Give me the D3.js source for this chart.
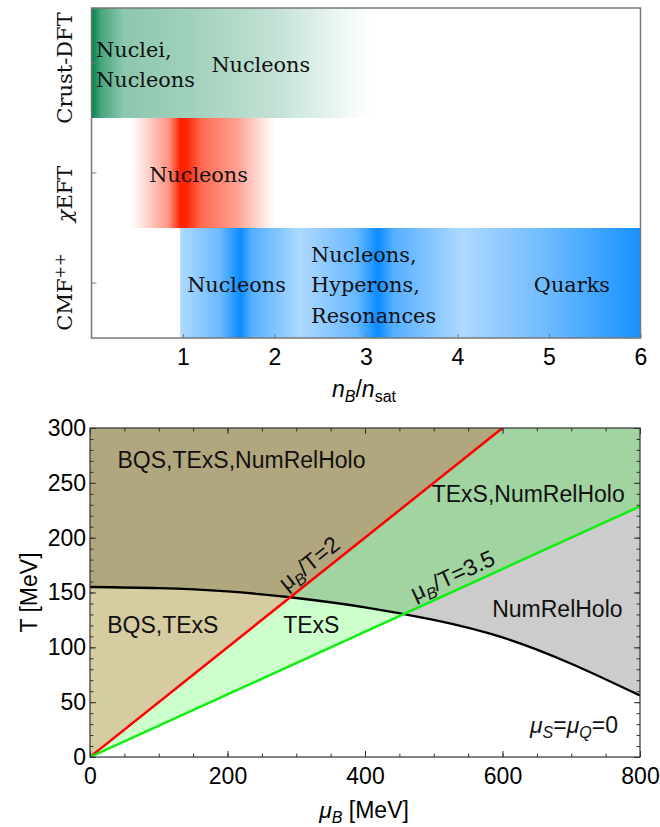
<!DOCTYPE html>
<html>
<head>
<meta charset="utf-8">
<script src="https://cdn.jsdelivr.net/npm/d3@7"></script>
<style>
  body { margin: 0; background: #fff; }
</style>
</head>
<body>
<div class="wrapper"></div>
<script>
// ---------- data: top panel (density ranges of each model)
var models = ['Crust-DFT', 'χEFT', 'CMF++'];
var nTicks = [1, 2, 3, 4, 5, 6];
// [n_B/n_sat, colour intensity 0..1]
var crustProfile = [[0, 1], [0.1, 0.72], [0.35, 0.45], [1, 0.38], [2, 0.24], [2.6, 0.1], [3.06, 0]];
var eftProfile   = [[0.44, 0], [0.6, 0.18], [0.85, 0.5], [0.97, 1], [1.03, 1], [1.2, 0.68], [1.6, 0.42], [1.85, 0.15], [2, 0]];
var cmfProfile   = [[0.97, 0.33], [1.4, 0.6], [1.63, 1], [1.75, 0.7], [2.28, 0.33], [2.9, 0.62], [3.13, 1],
                    [3.3, 0.7], [4.05, 0.33], [5, 0.6], [6, 0.95]];
var topLabels = [
  {model: 'Crust-DFT', n: 0.05, anchor: 'start',  lines: ['Nuclei,', 'Nucleons']},
  {model: 'Crust-DFT', n: 1.85, anchor: 'middle', lines: ['Nucleons']},
  {model: 'χEFT',      n: 1.17, anchor: 'middle', lines: ['Nucleons']},
  {model: 'CMF++',     n: 1.585, anchor: 'middle', lines: ['Nucleons']},
  {model: 'CMF++',     n: 2.40, anchor: 'start',  lines: ['Nucleons,', 'Hyperons,', 'Resonances']},
  {model: 'CMF++',     n: 5.25, anchor: 'middle', lines: ['Quarks']}
];

// ---------- data: bottom panel (phase diagram coverage)
var muGrid = [0, 100, 200, 300, 400, 500, 600, 700, 800];
var tCross = [155, 154, 151, 145, 136.5, 125, 109, 85, 56];
var ratios = [2, 3.5];
var muTicks = [0, 200, 400, 600, 800];
var tTicks = [0, 50, 100, 150, 200, 250, 300];
var regionLabels = [
  {mu: 40,  T: 263.5, text: 'BQS,TExS,NumRelHolo'},
  {mu: 497, T: 232.5, text: 'TExS,NumRelHolo'},
  {mu: 585, T: 127.7, text: 'NumRelHolo'},
  {mu: 25,  T: 113,   text: 'BQS,TExS'},
  {mu: 281, T: 113,   text: 'TExS'}
];
var lineLabels = [{ratio: 2, mu: 292}, {ratio: 3.5, mu: 477}];

var W = 660, H = 827;
var sans = "'Liberation Sans', Arial, sans-serif",
    serif = "'DejaVu Serif', serif";

var svg = d3.select('.wrapper').append('svg')
    .attr('width', W).attr('height', H)
    .style('font-family', sans);
var defs = svg.append('defs');

// ================= top panel
var p1 = {left: 91.5, right: 640.5, top: 8, bottom: 338};
var xn = d3.scaleLinear().domain([0, 6]).range([p1.left, p1.right]);
var rows = d3.scaleBand().domain(models).range([p1.top, p1.bottom]);

var bands = [
  {model: 'Crust-DFT', color: '#00824a', profile: crustProfile},
  {model: 'χEFT',      color: '#ff2200', profile: eftProfile},
  {model: 'CMF++',     color: '#0a8cff', profile: cmfProfile}
];

bands.forEach(function(b, i) {
  var n0 = b.profile[0][0], n1 = b.profile[b.profile.length - 1][0];
  var col = d3.interpolateRgb('#ffffff', b.color);
  var grad = defs.append('linearGradient').attr('id', 'band' + i)
      .attr('gradientUnits', 'userSpaceOnUse')
      .attr('x1', xn(n0)).attr('x2', xn(n1)).attr('y1', 0).attr('y2', 0);
  grad.selectAll('stop').data(b.profile).enter().append('stop')
      .attr('offset', d => (d[0] - n0) / (n1 - n0))
      .attr('stop-color', d => col(d[1]));
  svg.append('rect')
      .attr('x', xn(n0)).attr('width', xn(n1) - xn(n0))
      .attr('y', rows(b.model)).attr('height', rows.bandwidth())
      .attr('fill', 'url(#band' + i + ')');
});

topLabels.forEach(function(l) {
  var cy = rows(l.model) + rows.bandwidth() / 2;
  var k = l.lines.length;
  l.lines.forEach(function(s, j) {
    svg.append('text')
        .attr('x', xn(l.n))
        .attr('y', cy + 9 + (j - (k - 1) / 2) * 30.5)
        .attr('text-anchor', l.anchor)
        .style('font-family', serif).style('font-size', '20.8px')
        .attr('fill', '#111')
        .text(s);
  });
});

// axes of top panel
var gxn = svg.append('g').attr('transform', 'translate(0,' + p1.bottom + ')')
    .call(d3.axisBottom(xn).tickValues(nTicks).tickSize(-4).tickPadding(11).tickFormat(d3.format('d')));
gxn.select('.domain').remove();
gxn.selectAll('line').attr('stroke', '#777');
gxn.selectAll('text').style('font-size', '23px').style('font-family', sans).attr('fill', '#000');

var gyn = svg.append('g').attr('transform', 'translate(' + p1.left + ',0)')
    .call(d3.axisLeft(rows).tickSize(-5).tickFormat(''));
gyn.select('.domain').remove();
gyn.selectAll('line').attr('stroke', '#777');

svg.append('rect')
    .attr('x', p1.left).attr('y', p1.top)
    .attr('width', p1.right - p1.left).attr('height', p1.bottom - p1.top)
    .attr('fill', 'none').attr('stroke', '#777').attr('stroke-width', 1.5);

// rotated model names
var nameShift = {'Crust-DFT': 5, 'χEFT': 21, 'CMF++': 9};
models.forEach(function(m) {
  var t = svg.append('text')
      .attr('transform', 'translate(72,' + (rows(m) + rows.bandwidth() / 2 + nameShift[m]) + ') rotate(-90)')
      .attr('text-anchor', 'middle')
      .style('font-family', serif).style('font-size', '21px')
      .attr('fill', '#111');
  if (m === 'χEFT') {
    t.append('tspan').style('font-style', 'italic').text('χ');
    t.append('tspan').text('EFT');
  } else if (m === 'CMF++') {
    t.append('tspan').text('CMF');
    t.append('tspan').attr('dy', -7).style('font-size', '15px').text('++');
  } else {
    t.text(m);
  }
});

// x title n_B/n_sat
var tn = svg.append('text').attr('x', 364).attr('y', 397)
    .attr('text-anchor', 'middle').style('font-size', '23px').attr('fill', '#000');
tn.append('tspan').style('font-style', 'italic').text('n');
tn.append('tspan').attr('dy', 5).style('font-size', '16px').style('font-style', 'italic').text('B');
tn.append('tspan').attr('dy', -5).text('/');
tn.append('tspan').style('font-style', 'italic').text('n');
tn.append('tspan').attr('dy', 5).style('font-size', '16px').text('sat');

// ================= bottom panel
var p2 = {left: 90, right: 640, top: 428, bottom: 757};
var xm = d3.scaleLinear().domain([0, 800]).range([p2.left, p2.right]);
var yt = d3.scaleLinear().domain([0, 300]).range([p2.bottom, p2.top]);

var cross = muGrid.map((m, i) => [m, tCross[i]]);

defs.append('clipPath').attr('id', 'plot2').append('rect')
    .attr('x', p2.left).attr('y', p2.top)
    .attr('width', p2.right - p2.left).attr('height', p2.bottom - p2.top);
defs.append('clipPath').attr('id', 'above').append('path')
    .attr('d', d3.area().x(d => xm(d[0])).y0(yt(300)).y1(d => yt(d[1])).curve(d3.curveNatural)(cross));
defs.append('clipPath').attr('id', 'below').append('path')
    .attr('d', d3.area().x(d => xm(d[0])).y0(yt(0)).y1(d => yt(d[1])).curve(d3.curveNatural)(cross));

// wedges between the mu_B/T lines
var bounds = [0].concat(ratios).concat([Infinity]);
var far = r => r === Infinity ? [3000, 0] : [r * 3000, 3000];
var wedges = d3.range(bounds.length - 1).map(i => [[0, 0], far(bounds[i]), far(bounds[i + 1])]);
var aboveColors = ['#b1a77f', '#a1d4a1', '#cccccc'];
var belowColors = ['#d6cca1', '#ccffcc', '#ffffff'];
var poly = pts => 'M' + pts.map(p => xm(p[0]) + ',' + yt(p[1])).join('L') + 'Z';

var plot = svg.append('g').attr('clip-path', 'url(#plot2)');
plot.append('g').attr('clip-path', 'url(#above)')
  .selectAll('path').data(wedges).enter().append('path')
    .attr('d', poly).attr('fill', (d, i) => aboveColors[i]);
plot.append('g').attr('clip-path', 'url(#below)')
  .selectAll('path').data(wedges).enter().append('path')
    .attr('d', poly).attr('fill', (d, i) => belowColors[i]);

// crossover line
plot.append('path')
    .attr('d', d3.line().x(d => xm(d[0])).y(d => yt(d[1])).curve(d3.curveNatural)(cross))
    .attr('fill', 'none').attr('stroke', '#000').attr('stroke-width', 2.3);

// mu_B/T = const lines
var lineColors = ['#ff0000', '#11ee11'];
ratios.forEach(function(r, i) {
  var tEnd = Math.min(300, 800 / r);
  plot.append('line')
      .attr('x1', xm(0)).attr('y1', yt(0))
      .attr('x2', xm(r * tEnd)).attr('y2', yt(tEnd))
      .attr('stroke', lineColors[i]).attr('stroke-width', 2.5);
});

// region labels
svg.selectAll('.region').data(regionLabels).enter().append('text')
    .attr('class', 'region')
    .attr('x', d => xm(d.mu)).attr('y', d => yt(d.T))
    .style('font-size', '23px').attr('fill', '#111')
    .text(d => d.text);

// labels along the lines
lineLabels.forEach(function(l) {
  var ang = Math.atan2(yt(100 / l.ratio) - yt(0), xm(100) - xm(0)) * 180 / Math.PI;
  var t = svg.append('text')
      .attr('transform', 'translate(' + xm(l.mu) + ',' + yt(l.mu / l.ratio) + ') rotate(' + ang + ')')
      .attr('y', -7)
      .style('font-size', '23px').attr('fill', '#111');
  t.append('tspan').text('μ');
  t.append('tspan').attr('dy', 5).style('font-size', '16px').style('font-style', 'italic').text('B');
  t.append('tspan').attr('dy', -5).text('/T=' + l.ratio);
});

// mu_S = mu_Q = 0
var tq = svg.append('text').attr('x', xm(640)).attr('y', yt(22))
    .style('font-size', '23px').attr('fill', '#111');
tq.append('tspan').style('font-style', 'italic').text('μ');
tq.append('tspan').attr('dy', 5).style('font-size', '16px').style('font-style', 'italic').text('S');
tq.append('tspan').attr('dy', -5).text('=');
tq.append('tspan').style('font-style', 'italic').text('μ');
tq.append('tspan').attr('dy', 5).style('font-size', '16px').style('font-style', 'italic').text('Q');
tq.append('tspan').attr('dy', -5).text('=0');

// frame ticks, all four sides, pointing inward
function side(axisFn, scale, tr, major, minor, labels, pad) {
  var g = svg.append('g').attr('transform', tr)
      .call(axisFn(scale).tickValues(minor).tickSize(-3.5).tickFormat(''));
  var gm = svg.append('g').attr('transform', tr)
      .call(axisFn(scale).tickValues(major).tickSize(-6).tickPadding(pad)
        .tickFormat(labels ? d3.format('d') : ''));
  [g, gm].forEach(function(s) {
    s.select('.domain').remove();
    s.selectAll('line').attr('stroke', '#333');
    s.selectAll('text').style('font-size', '23px').style('font-family', sans).attr('fill', '#000');
  });
}
var muMinor = d3.range(0, 801, 50), tMinor = d3.range(0, 301, 10);
side(d3.axisBottom, xm, 'translate(0,' + p2.bottom + ')', muTicks, muMinor, true, 11);
side(d3.axisTop, xm, 'translate(0,' + p2.top + ')', muTicks, muMinor, false, 0);
side(d3.axisLeft, yt, 'translate(' + p2.left + ',0)', tTicks, tMinor, true, 4);
side(d3.axisRight, yt, 'translate(' + p2.right + ',0)', tTicks, tMinor, false, 0);

svg.append('rect')
    .attr('x', p2.left).attr('y', p2.top)
    .attr('width', p2.right - p2.left).attr('height', p2.bottom - p2.top)
    .attr('fill', 'none').attr('stroke', '#333').attr('stroke-width', 1.2);

// axis titles
var tx = svg.append('text').attr('x', 364).attr('y', 818)
    .attr('text-anchor', 'middle').style('font-size', '23px').attr('fill', '#000');
tx.append('tspan').style('font-style', 'italic').text('μ');
tx.append('tspan').attr('dy', 5).style('font-size', '16px').style('font-style', 'italic').text('B');
tx.append('tspan').attr('dy', -5).text(' [MeV]');

svg.append('text')
    .attr('transform', 'translate(37,' + yt(150) + ') rotate(-90)')
    .attr('text-anchor', 'middle').style('font-size', '23px').attr('fill', '#000')
    .text('T [MeV]');
</script>
</body>
</html>
